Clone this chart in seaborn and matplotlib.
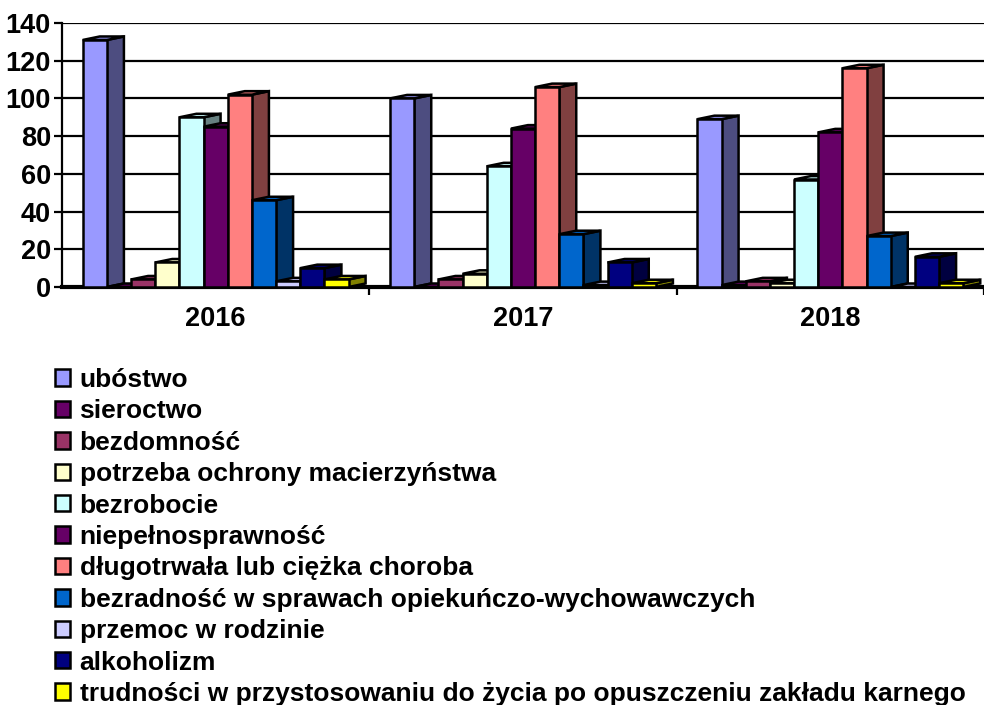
import numpy as np
import pandas as pd
import matplotlib
matplotlib.use("Agg")
import matplotlib.pyplot as plt
from matplotlib.patches import Polygon, Patch
from matplotlib.colors import to_rgb
import seaborn as sns

years = ["2016", "2017", "2018"]
categories = [
    "ubóstwo",
    "sieroctwo",
    "bezdomność",
    "potrzeba ochrony macierzyństwa",
    "bezrobocie",
    "niepełnosprawność",
    "długotrwała lub ciężka choroba",
    "bezradność w sprawach opiekuńczo-wychowawczych",
    "przemoc w rodzinie",
    "alkoholizm",
    "trudności w przystosowaniu do życia po opuszczeniu zakładu karnego",
]
values_2016 = [131, 0, 4, 13, 90, 85, 102, 46, 3, 10, 4]
values_2017 = [100, 0, 4, 7, 64, 84, 106, 28, 1, 13, 2]
values_2018 = [89, 1, 3, 2, 57, 82, 116, 27, 0, 16, 2]
colors = ["#9999FF", "#660066", "#993366", "#FFFFCC", "#CCFFFF", "#660066",
          "#FF8080", "#0066CC", "#CCCCFF", "#000080", "#FFFF00"]
yticks = [0, 20, 40, 60, 80, 100, 120, 140]

rows = []
for yr, vals in zip(years, [values_2016, values_2017, values_2018]):
    for c, v in zip(categories, vals):
        rows.append({"rok": yr, "kategoria": c, "liczba": v})
df = pd.DataFrame(rows)

sns.set_theme(style="white")
plt.rcParams["font.family"] = ["Liberation Sans", "DejaVu Sans"]
plt.rcParams["font.weight"] = "bold"
plt.rcParams["text.color"] = "black"
plt.rcParams["xtick.color"] = "black"
plt.rcParams["ytick.color"] = "black"
plt.rcParams["xtick.labelcolor"] = "black"
plt.rcParams["ytick.labelcolor"] = "black"

W, H = 984, 705
fig = plt.figure(figsize=(W / 100, H / 100), dpi=100)
ax_l, ax_b = 62 / W, 1 - 287 / H
ax_w, ax_h = (W - 62) / W, (287 - 23) / H
ax = fig.add_axes([ax_l, ax_b, ax_w, ax_h])

palette = dict(zip(categories, colors))
sns.barplot(data=df, x="rok", y="liczba", hue="kategoria", hue_order=categories,
            order=years, palette=palette, width=0.865, dodge=True, ax=ax,
            edgecolor="black", linewidth=1.8, saturation=1, legend=False)

ax.set_xlim(-0.5, 2.5)
ax.set_ylim(0, 140)

# pseudo-3D faces derived from the seaborn bars
px_x = (W * ax_w) / 3.0
px_y = (H * ax_h) / 140.0
dx = 17 / px_x
dy = 3.5 / px_y
for i, cont in enumerate(ax.containers):
    base = np.array(to_rgb(colors[i]))
    side = tuple(base * 0.5)
    top = tuple(np.clip(base * 0.9, 0, 1))
    for bar in cont.patches:
        x0 = bar.get_x()
        w = bar.get_width()
        h = bar.get_height()
        x1 = x0 + w
        bar.set_zorder(3 + i * 0.1 + 0.05)
        sp = Polygon([(x1, 0), (x1 + dx, dy), (x1 + dx, h + dy), (x1, h)],
                     closed=True, facecolor=side, edgecolor="black",
                     linewidth=1.8, zorder=3 + i * 0.1, clip_on=False)
        tp = Polygon([(x0, h), (x0 + dx, h + dy), (x1 + dx, h + dy), (x1, h)],
                     closed=True, facecolor=top, edgecolor="black",
                     linewidth=1.8, zorder=3 + i * 0.1, clip_on=False)
        ax.add_patch(sp)
        ax.add_patch(tp)

ax.set_yticks(yticks)
ax.set_yticklabels([str(t) for t in yticks], fontsize=19.5, fontweight="bold", color="black")
ax.yaxis.grid(True, color="black", linewidth=1.6)
ax.set_axisbelow(True)
ax.tick_params(axis="y", length=6, width=1.6, color="black", left=True, pad=2)
ax.tick_params(axis="x", length=0, pad=14, labelsize=19.5)
for lab in ax.get_xticklabels():
    lab.set_fontweight("bold")
    lab.set_color("black")
ax.set_xticks([0.5, 1.5, 2.5], minor=True)
ax.tick_params(axis="x", which="minor", length=6, width=1.6, color="black", bottom=True)
ax.set_xlabel("")
ax.set_ylabel("")
for s in ["top", "right"]:
    ax.spines[s].set_visible(False)
ax.spines["left"].set_color("black")
ax.spines["left"].set_linewidth(1.6)
ax.spines["bottom"].set_color("black")
ax.spines["bottom"].set_linewidth(3)

handles = [Patch(facecolor=c, edgecolor="black", linewidth=1.8) for c in colors]
leg = fig.legend(handles, categories, loc="upper left", bbox_to_anchor=(55 / W, 1 - 368 / H),
                 frameon=False, prop={"size": 19, "weight": "bold"},
                 handlelength=0.58, handleheight=0.58, handletextpad=0.35,
                 labelspacing=0.28, borderpad=0, borderaxespad=0)
for t in leg.get_texts():
    t.set_color("black")

fig.savefig("out.png", dpi=100)
